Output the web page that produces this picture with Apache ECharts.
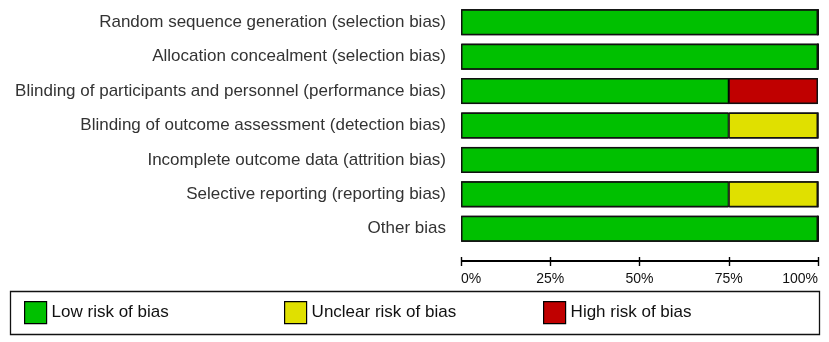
<!DOCTYPE html>
<html>
<head>
<meta charset="utf-8">
<script src="https://cdn.jsdelivr.net/npm/echarts@6/dist/echarts.min.js"></script>
<style>
html,body{margin:0;padding:0;background:#fff;}
#chart{width:829px;height:342px;}
</style>
</head>
<body>
<div id="chart"></div>
<script>
const categories = [
  'Random sequence generation (selection bias)',
  'Allocation concealment (selection bias)',
  'Blinding of participants and personnel (performance bias)',
  'Blinding of outcome assessment (detection bias)',
  'Incomplete outcome data (attrition bias)',
  'Selective reporting (reporting bias)',
  'Other bias'
];
const lowRisk     = [100, 100, 75, 75, 100, 75, 100];
const unclearRisk = [0, 0, 0, 25, 0, 25, 0];
const highRisk    = [0, 0, 25, 0, 0, 0, 0];
const totals      = [100, 100, 100, 100, 100, 100, 100];
const tickValues  = [0, 25, 50, 75, 100];
const seriesNames = ['Low risk of bias', 'Unclear risk of bias', 'High risk of bias'];

const colors = ['#00C000', '#E0E000', '#C00000'];
const font = 'Liberation Sans, Arial, sans-serif';
const legendLefts = [24, 284, 543];

const chart = echarts.init(document.getElementById('chart'), null, {renderer: 'canvas'});
const seg = (name, data, color) => ({
  name, type: 'bar', stack: 'risk', data, barWidth: 26,
  xAxisIndex: 0, yAxisIndex: 0,
  itemStyle: {color, borderColor: '#000', borderWidth: 1},
  emphasis: {disabled: true}, z: 2
});
const option = {
  animation: false,
  grid: [
    {left: 461, right: 11, top: 5, bottom: 96, containLabel: false},
    {left: 461, right: 11, top: 240, bottom: 81, containLabel: false}
  ],
  legend: seriesNames.map((n, i) => ({
    left: legendLefts[i], top: 301, padding: 0,
    itemWidth: 22, itemHeight: 22,
    icon: 'rect',
    selectedMode: false,
    data: [n],
    itemStyle: {borderColor: '#000', borderWidth: 1.2},
    textStyle: {fontFamily: font, fontSize: 17, color: '#111'}
  })),
  xAxis: [{
    gridIndex: 0, type: 'value', min: 0, max: 100, interval: 25, show: false
  }, {
    gridIndex: 1, type: 'value', min: 0, max: 100, interval: 25,
    position: 'bottom', offset: -4,
    axisLine: {show: false},
    axisTick: {show: true, inside: false, length: 9, lineStyle: {color: '#000', width: 1.4}},
    axisLabel: {
      show: true,
      formatter: v => tickValues.includes(v) ? v + '%' : '',
      fontFamily: font, fontSize: 14, color: '#111', margin: 15,
      alignMinLabel: 'left', alignMaxLabel: 'right'
    },
    splitLine: {show: false}
  }],
  yAxis: [{
    gridIndex: 0,
    type: 'category', data: categories, inverse: true,
    axisLine: {show: false}, axisTick: {show: false},
    axisLabel: {fontFamily: font, fontSize: 17, color: '#333', margin: 15}
  }, {
    gridIndex: 1, type: 'value', min: 0, max: 1, show: false
  }],
  series: [
    seg(seriesNames[0], lowRisk, colors[0]),
    seg(seriesNames[1], unclearRisk, colors[1]),
    seg(seriesNames[2], highRisk, colors[2]),
    {
      name: 'outline', type: 'bar', data: totals, barWidth: 26, barGap: '-100%',
      xAxisIndex: 0, yAxisIndex: 0,
      itemStyle: {color: 'rgba(0,0,0,0)', borderColor: '#111', borderWidth: 1.5},
      emphasis: {disabled: true}, z: 3, silent: true
    },
    {
      name: 'axis', type: 'line', xAxisIndex: 1, yAxisIndex: 1,
      data: tickValues.map(v => [v, 0]),
      symbol: 'none', clip: false, silent: true,
      lineStyle: {color: '#000', width: 2},
      emphasis: {disabled: true}, z: 5
    }
  ],
  graphic: [{
    type: 'rect', x: 0, y: 0,
    shape: {x: 10.5, y: 291.5, width: 809, height: 43},
    style: {fill: 'none', stroke: '#111', lineWidth: 1.3}, z: 0
  }]
};
chart.setOption(option);
</script>
</body>
</html>
